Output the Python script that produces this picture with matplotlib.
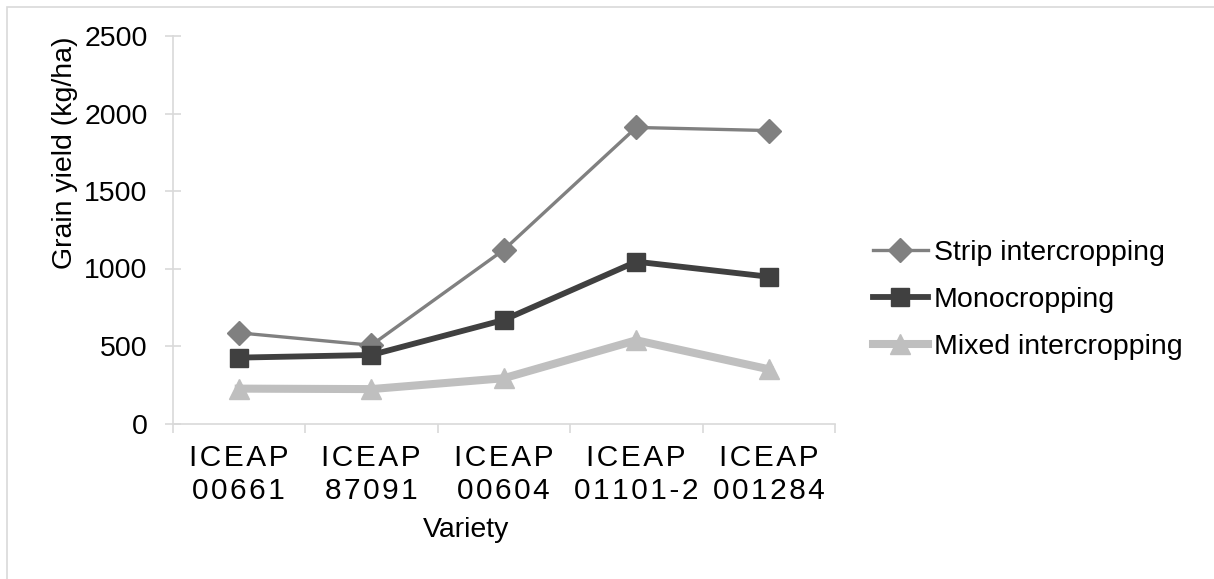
import matplotlib.pyplot as plt
from matplotlib.patches import Rectangle

plt.rcParams["font.family"] = ["Liberation Sans", "DejaVu Sans"]
plt.rcParams["font.size"] = 20.5

VARIETIES = ["ICEAP\n00661", "ICEAP\n87091", "ICEAP\n00604", "ICEAP\n01101-2", "ICEAP\n001284"]
STRIP = [585, 505, 1120, 1910, 1890]
MONO = [425, 442, 668, 1044, 947]
MIXED = [225, 222, 292, 537, 350]
Y_TICKS = [0, 500, 1000, 1500, 2000, 2500]

W, H = 1214, 579
AXIS_GREY = "#d9d9d9"


def spaced(label):
    # the reference spreads the letters a little
    return "\n".join("\u200a".join(line) for line in label.split("\n"))


def main():
    fig = plt.figure(figsize=(W / 100, H / 100), dpi=100)

    # outer chart frame (right/bottom edges fall outside the picture)
    fig.patches.append(Rectangle((7 / W, -0.1), 1.2, (H - 7) / H + 0.1,
                                 transform=fig.transFigure, fill=False,
                                 edgecolor=AXIS_GREY, linewidth=1.2))

    ax = fig.add_axes([172.5 / W, (H - 423.5) / H, (835 - 172.5) / W, (423.5 - 36) / H])

    x = list(range(len(VARIETIES)))
    ax.plot(x, STRIP, color="#808080", lw=2.4, marker="D", ms=12,
            label="Strip intercropping", zorder=3)
    ax.plot(x, MONO, color="#404040", lw=4.2, marker="s", ms=12.5,
            label="Monocropping", zorder=3)
    ax.plot(x, MIXED, color="#bfbfbf", lw=5.8, marker="^", ms=14,
            label="Mixed intercropping", zorder=2)

    ax.set_xlim(-0.5, len(VARIETIES) - 0.5)
    ax.set_ylim(0, 2500)
    ax.set_yticks(Y_TICKS)

    # category boundaries get the tick marks, labels sit at the centres
    ax.set_xticks([i - 0.5 for i in range(len(VARIETIES) + 1)])
    ax.set_xticklabels([])
    ax.set_xticks(x, minor=True)
    ax.set_xticklabels([spaced(v) for v in VARIETIES], minor=True, linespacing=1.2)
    ax.tick_params(axis="x", which="major", direction="out", length=6.5,
                   width=1.2, color=AXIS_GREY)
    ax.tick_params(axis="x", which="minor", length=0, pad=15, labelsize=21.5)
    ax.tick_params(axis="y", direction="inout", length=12, width=1.2,
                   color=AXIS_GREY, pad=12, labelsize=20.5)

    for side in ["top", "right"]:
        ax.spines[side].set_visible(False)
    for side in ["left", "bottom"]:
        ax.spines[side].set_color(AXIS_GREY)
        ax.spines[side].set_linewidth(1.2)

    fig.text(65 / W, 1 - 153 / H, "Grain yield (kg/ha)", rotation=90,
             ha="center", va="center")
    fig.text(466 / W, 1 - 530 / H, "Variety", ha="center", va="center")

    ax.legend(loc="center left", bbox_to_anchor=(873 / W, 1 - 300 / H),
              bbox_transform=fig.transFigure, frameon=False,
              handlelength=1.93, handletextpad=0.2, labelspacing=0.75,
              borderpad=0, borderaxespad=0)

    fig.savefig("out.png", dpi=100)
    plt.close(fig)


if __name__ == "__main__":
    main()
